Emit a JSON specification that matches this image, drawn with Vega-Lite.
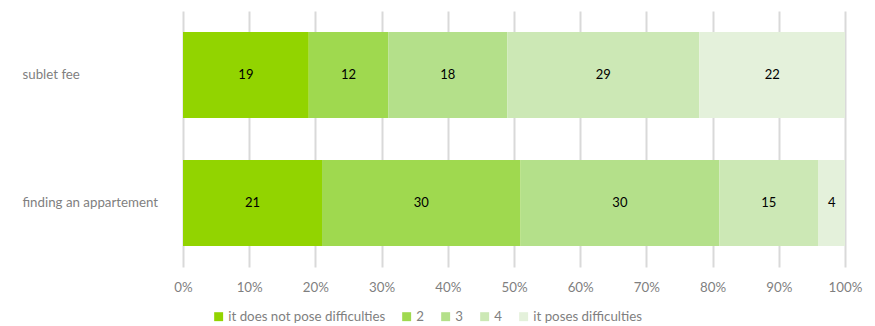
{
  "$schema": "https://vega.github.io/schema/vega-lite/v6.json",
  "width": 662,
  "height": 256,
  "autosize": "none",
  "padding": {"left": 183, "top": 11, "right": 30, "bottom": 59},
  "background": "white",
  "config": {"view": {"stroke": null}, "font": "Lato"},
  "data": {"values": [
    {"item": "sublet fee", "answer": "it does not pose difficulties", "order": 1, "value": 19},
    {"item": "sublet fee", "answer": "2", "order": 2, "value": 12},
    {"item": "sublet fee", "answer": "3", "order": 3, "value": 18},
    {"item": "sublet fee", "answer": "4", "order": 4, "value": 29},
    {"item": "sublet fee", "answer": "it poses difficulties", "order": 5, "value": 22},
    {"item": "finding an appartement", "answer": "it does not pose difficulties", "order": 1, "value": 21},
    {"item": "finding an appartement", "answer": "2", "order": 2, "value": 30},
    {"item": "finding an appartement", "answer": "3", "order": 3, "value": 30},
    {"item": "finding an appartement", "answer": "4", "order": 4, "value": 15},
    {"item": "finding an appartement", "answer": "it poses difficulties", "order": 5, "value": 4}
  ]},
  "transform": [
    {"stack": "value", "groupby": ["item"], "sort": [{"field": "order", "order": "ascending"}], "as": ["v0", "v1"], "offset": "normalize"},
    {"calculate": "(datum.v0 + datum.v1) / 2", "as": "mid"}
  ],
  "encoding": {
    "y": {
      "field": "item", "type": "nominal",
      "sort": ["sublet fee", "finding an appartement"],
      "scale": {"paddingInner": 0.328, "paddingOuter": 0.164},
      "axis": {"title": null, "domain": false, "ticks": false, "labelAlign": "left", "labelPadding": 161, "labelColor": "#7f7f7f", "labelFontSize": 13.3, "labelFont": "Lato"}
    }
  },
  "layer": [
    {
      "mark": {"type": "bar"},
      "encoding": {
        "x": {"field": "v0", "type": "quantitative", "scale": {"domain": [0, 1], "nice": false},
          "axis": {"title": null, "format": "%", "values": [0,0.1,0.2,0.3,0.4,0.5,0.6,0.7,0.8,0.9,1], "domain": false, "ticks": false, "grid": true, "gridColor": "#d9d9d9", "gridWidth": 2, "labelColor": "#7f7f7f", "labelFontSize": 13.3, "labelPadding": 13, "labelFont": "Lato", "labelFlush": false}},
        "x2": {"field": "v1"},
        "color": {
          "field": "answer", "type": "nominal",
          "scale": {
            "domain": ["it does not pose difficulties", "2", "3", "4", "it poses difficulties"],
            "range": ["#92d400", "#9fd94f", "#b4e08a", "#cce8b5", "#e4f1db"]
          },
          "legend": {
            "title": null, "orient": "none", "direction": "horizontal",
            "legendX": 29, "legendY": 299,
            "symbolType": "square", "symbolSize": 80, "symbolStrokeWidth": 0,
            "labelColor": "#7f7f7f", "labelFontSize": 13.3, "labelFont": "Lato",
            "columnPadding": 14, "labelOffset": 3
          }
        },
        "order": {"field": "order"}
      }
    },
    {
      "mark": {"type": "text", "color": "#000000", "fontSize": 13, "font": "Lato"},
      "encoding": {
        "x": {"field": "mid", "type": "quantitative"},
        "text": {"field": "value", "type": "quantitative"}
      }
    }
  ]
}
